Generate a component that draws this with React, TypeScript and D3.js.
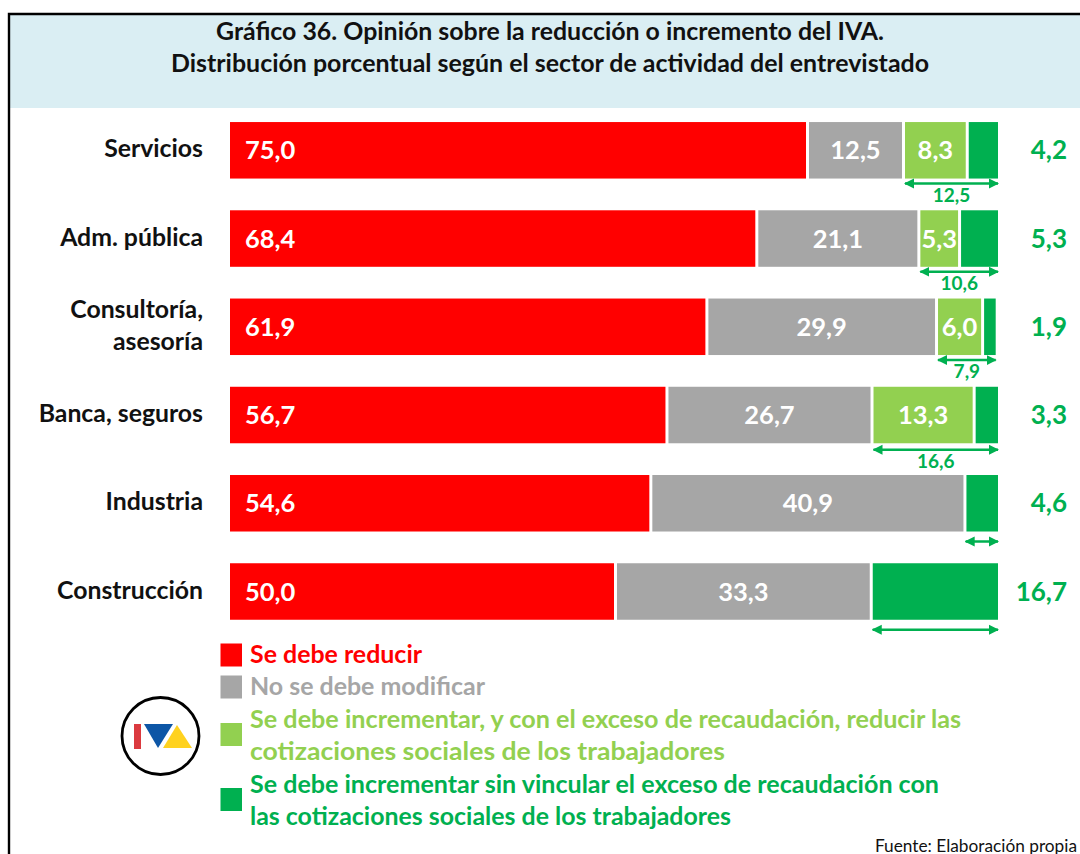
import React from "react";
import * as d3 from "d3";

const titleLines = [
  "Gráfico 36. Opinión sobre la reducción o incremento del IVA.",
  "Distribución porcentual según el sector de actividad del entrevistado",
];
const categories = ["Servicios", "Adm. pública", "Consultoría,|asesoría", "Banca, seguros", "Industria", "Construcción"];
const reducir = [75.0, 68.4, 61.9, 56.7, 54.6, 50.0];
const noModificar = [12.5, 21.1, 29.9, 26.7, 40.9, 33.3];
const incrementarReducir = [8.3, 5.3, 6.0, 13.3, 0, 0];
const incrementarSin = [4.2, 5.3, 1.9, 3.3, 4.6, 16.7];
const totalLabels = ["12,5", "10,6", "7,9", "16,6", "", ""];
const seriesKeys = ["reducir", "noModificar", "incrementarReducir", "incrementarSin"];
const seriesColors = ["#FF0000", "#A6A6A6", "#92D050", "#00B050"];
const legendLines = [
  { color: 0, lines: ["Se debe reducir"], widths: [172] },
  { color: 1, lines: ["No se debe modificar"], widths: [235] },
  { color: 2, lines: ["Se debe incrementar, y con el exceso de recaudación, reducir las", "cotizaciones sociales de los trabajadores"], widths: [711, 475] },
  { color: 3, lines: ["Se debe incrementar sin vincular el exceso de recaudación con", "las cotizaciones sociales de los trabajadores"], widths: [689, 481] },
];
const source = "Fuente: Elaboración propia";

const fmt = (v: number) => v.toFixed(1).replace(".", ",");
const FONT = "Lato, 'Open Sans', sans-serif";
const GREEN = "#00B050";

export default function App() {
  const x = d3.scaleLinear().domain([0, 100]).range([230, 998]);
  const y = d3.scalePoint<number>().domain(categories.map((_, i) => i)).range([150.3, 591.5]);
  const barH = 56.5;
  const gap = 3;
  const rows = categories.map((c, i) => ({
    c,
    reducir: reducir[i],
    noModificar: noModificar[i],
    incrementarReducir: incrementarReducir[i],
    incrementarSin: incrementarSin[i],
  }));
  const stacked = d3.stack<any>().keys(seriesKeys)(rows);
  const cl = (v: number) => Math.min(x(v), 998);

  let legendLine = 0;
  const lineYs = [655, 687, 720, 752, 785, 817];

  return (
    <svg width={1080} height={854} viewBox="0 0 1080 854"
      style={{ position: "absolute", left: 0, top: 0, display: "block", background: "#fff" }} fontFamily={FONT}>
      <defs>
        <marker id="ah" viewBox="0 0 10 10" refX="9" refY="5" markerUnits="userSpaceOnUse" markerWidth="10" markerHeight="11" orient="auto-start-reverse">
          <path d="M0,0 L10,5 L0,10 Z" fill={GREEN} />
        </marker>
      </defs>
      <rect x={10} y={15} width={1070} height={93} fill="#DAEEF3" />
      <path d="M1080,14 H9 V854" fill="none" stroke="#000" strokeWidth={2.4} />
      {titleLines.map((t, i) => (
        <text key={i} x={[550, 550][i]} y={[40, 72][i]} textAnchor="middle" fontSize={25} fontWeight={700} fill="#111"
          textLength={[668, 758][i]} lengthAdjust="spacingAndGlyphs">{t}</text>
      ))}

      {stacked.map((s, si) => (
        <g key={s.key} fill={seriesColors[si]}>
          {s.map((d, i) => {
            if (d[1] - d[0] <= 0) return null;
            const x0 = x(d[0]) + (si === 0 ? 0 : gap);
            const x1 = cl(d[1]);
            return <rect key={i} x={x0} y={y(i)! - barH / 2} width={x1 - x0} height={barH} />;
          })}
        </g>
      ))}

      {categories.map((c, i) => {
        const parts = c.split("|");
        const cy = y(i)!;
        return (
          <text key={c} textAnchor="end" fontSize={24.8} fontWeight={700} fill="#111">
            {parts.map((p, k) => (
              <tspan key={k} x={203} y={cy + 7 + (parts.length === 2 ? (k === 0 ? -16 : 16) : 0)}>{p}</tspan>
            ))}
          </text>
        );
      })}

      {stacked.slice(0, 3).map((s, si) => (
        <g key={s.key} fill="#fff" fontSize={25.5} fontWeight={700}>
          {s.map((d, i) => {
            if (d[1] - d[0] <= 0) return null;
            const tx = si === 0 ? 245 : (x(d[0]) + gap + x(d[1])) / 2;
            return (
              <text key={i} x={tx} y={y(i)! + 9} textAnchor={si === 0 ? "start" : "middle"}>
                {fmt(d[1] - d[0])}
              </text>
            );
          })}
        </g>
      ))}

      {incrementarSin.map((v, i) => (
        <text key={i} x={1067} y={y(i)! + 9} textAnchor="end" fontSize={26} fontWeight={700} fill={GREEN}>{fmt(v)}</text>
      ))}

      {categories.map((_, i) => {
        const arrowY = y(i)! + barH / 2 + (i < 3 ? 5 : i === 3 ? 6.5 : 10);
        const start = incrementarReducir[i] > 0 ? reducir[i] + noModificar[i] : 100 - incrementarSin[i];
        const x0 = x(start) + gap;
        const x1 = cl(start + incrementarReducir[i] + incrementarSin[i]);
        return (
          <g key={i}>
            <line x1={x0} x2={x1} y1={arrowY} y2={arrowY} stroke={GREEN} strokeWidth={2.4}
              markerStart="url(#ah)" markerEnd="url(#ah)" />
            {totalLabels[i] && (
              <text x={(x0 + x1) / 2} y={arrowY + 18} textAnchor="middle" fontSize={19} fontWeight={700} fill={GREEN}>
                {totalLabels[i]}
              </text>
            )}
          </g>
        );
      })}

      {legendLines.map((l, i) => {
        const first = legendLine;
        legendLine += l.lines.length;
        const cy = (lineYs[first] + lineYs[first + l.lines.length - 1]) / 2 - (i > 1 ? 1.5 : 0);
        return (
          <g key={i}>
            <rect x={220.5} y={cy - 11.5} width={21.5} height={23} fill={seriesColors[l.color]} />
            {l.lines.map((t, k) => (
              <text key={k} x={250} y={lineYs[first + k] + 8} fontSize={25} fontWeight={700} fill={seriesColors[l.color]}
                textLength={l.widths[k]} lengthAdjust="spacingAndGlyphs">{t}</text>
            ))}
          </g>
        );
      })}

      <g>
        <circle cx={160.5} cy={736} r={38.5} fill="#fff" stroke="#000" strokeWidth={2.8} />
        <rect x={134} y={724} width={7} height={25} fill="#DB3A3F" />
        <path d={d3.line()([[144, 724], [173, 724], [158, 748]]) + "Z"} fill="#0D56A6" />
        <path d={d3.line()([[177, 725], [192, 748], [163, 748]]) + "Z"} fill="#FFD21F" />
      </g>

      <text x={875} y={851.5} fontSize={17} fill="#111" textLength={202} lengthAdjust="spacingAndGlyphs">{source}</text>
    </svg>
  );
}
